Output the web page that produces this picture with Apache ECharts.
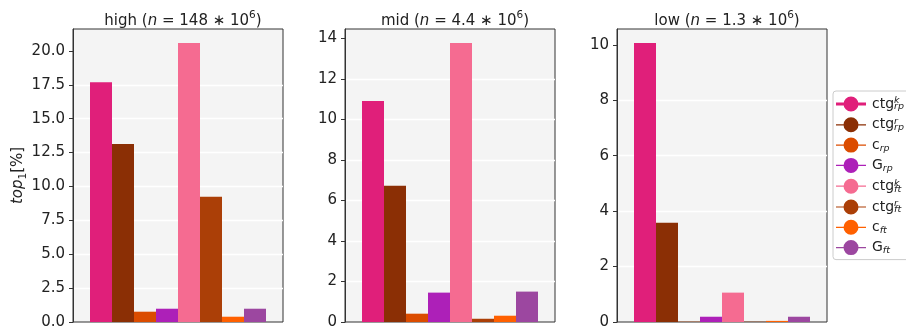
<!DOCTYPE html>
<html>
<head>
<meta charset="utf-8">
<script src="https://cdn.jsdelivr.net/npm/echarts@6/dist/echarts.min.js"></script>
<style>
html,body{margin:0;padding:0;background:#fff;}
#chart{width:906px;height:332px;}
</style>
</head>
<body>
<div id="chart"></div>
<script>
// ---- data ----
const panels = ['high', 'mid', 'low'];
const panelN = ['148', '4.4', '1.3'];
const seriesNames = ['ctgk_rp', 'ctgr_rp', 'c_rp', 'G_rp', 'ctgk_ft', 'ctgr_ft', 'c_ft', 'G_ft'];
const seriesBase = ['ctg', 'ctg', 'c', 'G', 'ctg', 'ctg', 'c', 'G'];
const seriesSup = ['k', 'r', '', '', 'k', 'r', '', ''];
const seriesSub = ['rp', 'rp', 'rp', 'rp', 'ft', 'ft', 'ft', 'ft'];
const seriesColors = ['#e01f7a', '#8b2f05', '#db4c00', '#ad20b8', '#f56b91', '#ab3f07', '#ff6000', '#9c47a0'];
const highValues = [17.69, 13.14, 0.76, 0.98, 20.59, 9.24, 0.39, 0.98];
const midValues = [10.91, 6.72, 0.41, 1.45, 13.77, 0.16, 0.31, 1.50];
const lowValues = [10.07, 3.58, 0.01, 0.19, 1.06, 0.01, 0.04, 0.19];
const highTicks = [0, 2.5, 5, 7.5, 10, 12.5, 15, 17.5, 20];
const midTicks = [0, 2, 4, 6, 8, 10, 12, 14];
const lowTicks = [0, 2, 4, 6, 8, 10];

const panelValues = [highValues, midValues, lowValues];
const panelTicks = [highTicks, midTicks, lowTicks];
const tickDecimals = [1, 0, 0];

const FONT = 'DejaVu Sans';
const gridLefts = [73, 345, 617];
const gridWidth = 210;

const grids = [], xAxes = [], yAxes = [], titles = [], series = [];
panels.forEach((p, pi) => {
  grids.push({
    left: gridLefts[pi], width: gridWidth, top: 29, bottom: 10,
    show: true, backgroundColor: '#f4f4f4', borderColor: '#333', borderWidth: 1
  });
  xAxes.push({
    type: 'category', gridIndex: pi, data: [p],
    axisLine: { show: false }, axisTick: { show: false }, axisLabel: { show: false }
  });
  const vmax = Math.max.apply(null, panelValues[pi]) * 1.05;
  const ticks = panelTicks[pi];
  yAxes.push({
    type: 'value', gridIndex: pi, min: 0, max: vmax, interval: ticks[1] - ticks[0],
    axisLine: { show: true, lineStyle: { color: '#333', width: 1 } },
    axisTick: { show: true, length: 4, lineStyle: { color: '#333' }, customValues: ticks },
    axisLabel: {
      show: true, fontFamily: FONT, fontSize: 15, color: '#222', margin: 8,
      customValues: ticks,
      formatter: (v) => Number(v).toFixed(tickDecimals[pi])
    },
    splitLine: { show: true, showMinLine: false, showMaxLine: false, lineStyle: { color: '#ffffff', width: 1.3 } },
    name: pi === 0 ? '{it|top}{sub|1}[%]' : '',
    nameLocation: 'middle', nameGap: 44, nameRotate: 90, nameMoveOverlap: false,
    nameTextStyle: {
      fontFamily: FONT, fontSize: 15, color: '#222',
      rich: {
        it: { fontFamily: FONT, fontSize: 15, fontStyle: 'italic', color: '#222' },
        sub: { fontFamily: FONT, fontSize: 10.5, color: '#222', verticalAlign: 'bottom', lineHeight: 22 }
      }
    }
  });
  titles.push({
    text: p + ' ({it|n} = ' + panelN[pi] + ' ∗ 10{sup|6})',
    left: gridLefts[pi] + gridWidth / 2, top: 5, textAlign: 'center',
    textStyle: {
      fontFamily: FONT, fontSize: 15, fontWeight: 'normal', color: '#222',
      rich: {
        it: { fontFamily: FONT, fontSize: 15, fontStyle: 'italic', color: '#222' },
        sup: { fontFamily: FONT, fontSize: 10.5, color: '#222', verticalAlign: 'top', lineHeight: 22 }
      }
    }
  });
  seriesNames.forEach((name, si) => {
    series.push({
      type: 'bar', name: name, xAxisIndex: pi, yAxisIndex: pi,
      data: [panelValues[pi][si]],
      barWidth: 22, barGap: '0%',
      itemStyle: { color: seriesColors[si] },
      emphasis: { disabled: true }
    });
  });
});

function legendIcon(thick) {
  const h = thick ? 1.6 : 0.6;
  return 'path://M0,' + (7.5 - h) + 'H30V' + (7.5 + h) + 'H0Z' +
    'M22.5,7.5A7.5,7.5 0 1,1 7.5,7.5A7.5,7.5 0 1,1 22.5,7.5Z';
}

const legendData = seriesNames.map((n, i) => ({ name: n, icon: legendIcon(i === 0) }));

const option = {
  animation: false,
  backgroundColor: '#ffffff',
  title: titles,
  grid: grids,
  xAxis: xAxes,
  yAxis: yAxes,
  legend: {
    orient: 'vertical', left: 833, top: 91,
    data: legendData,
    itemWidth: 30, itemHeight: 15, itemGap: 4.8,
    backgroundColor: '#fff', borderColor: '#ccc', borderWidth: 1, borderRadius: 3,
    padding: [5, 6, 4, 3],
    selectedMode: false,
    formatter: (name) => {
      const i = seriesNames.indexOf(name);
      let s = '{b|' + seriesBase[i] + '}';
      if (seriesSup[i]) s += '{sup|' + seriesSup[i] + '}';
      s += '{sub|' + seriesSub[i] + '}';
      return s;
    },
    textStyle: {
      fontFamily: FONT, fontSize: 14, color: '#222', padding: [0, 0, 0, 1],
      rich: {
        b: { fontFamily: FONT, fontSize: 14, color: '#222', lineHeight: 16 },
        sup: { fontFamily: FONT, fontSize: 9.5, fontStyle: 'italic', color: '#222', width: 0, verticalAlign: 'top', lineHeight: 10 },
        sub: { fontFamily: FONT, fontSize: 9.5, fontStyle: 'italic', color: '#222', verticalAlign: 'bottom', lineHeight: 10 }
      }
    }
  },
  series: series
};

const chart = echarts.init(document.getElementById('chart'), null, { renderer: 'canvas' });
chart.setOption(option);
</script>
</body>
</html>
